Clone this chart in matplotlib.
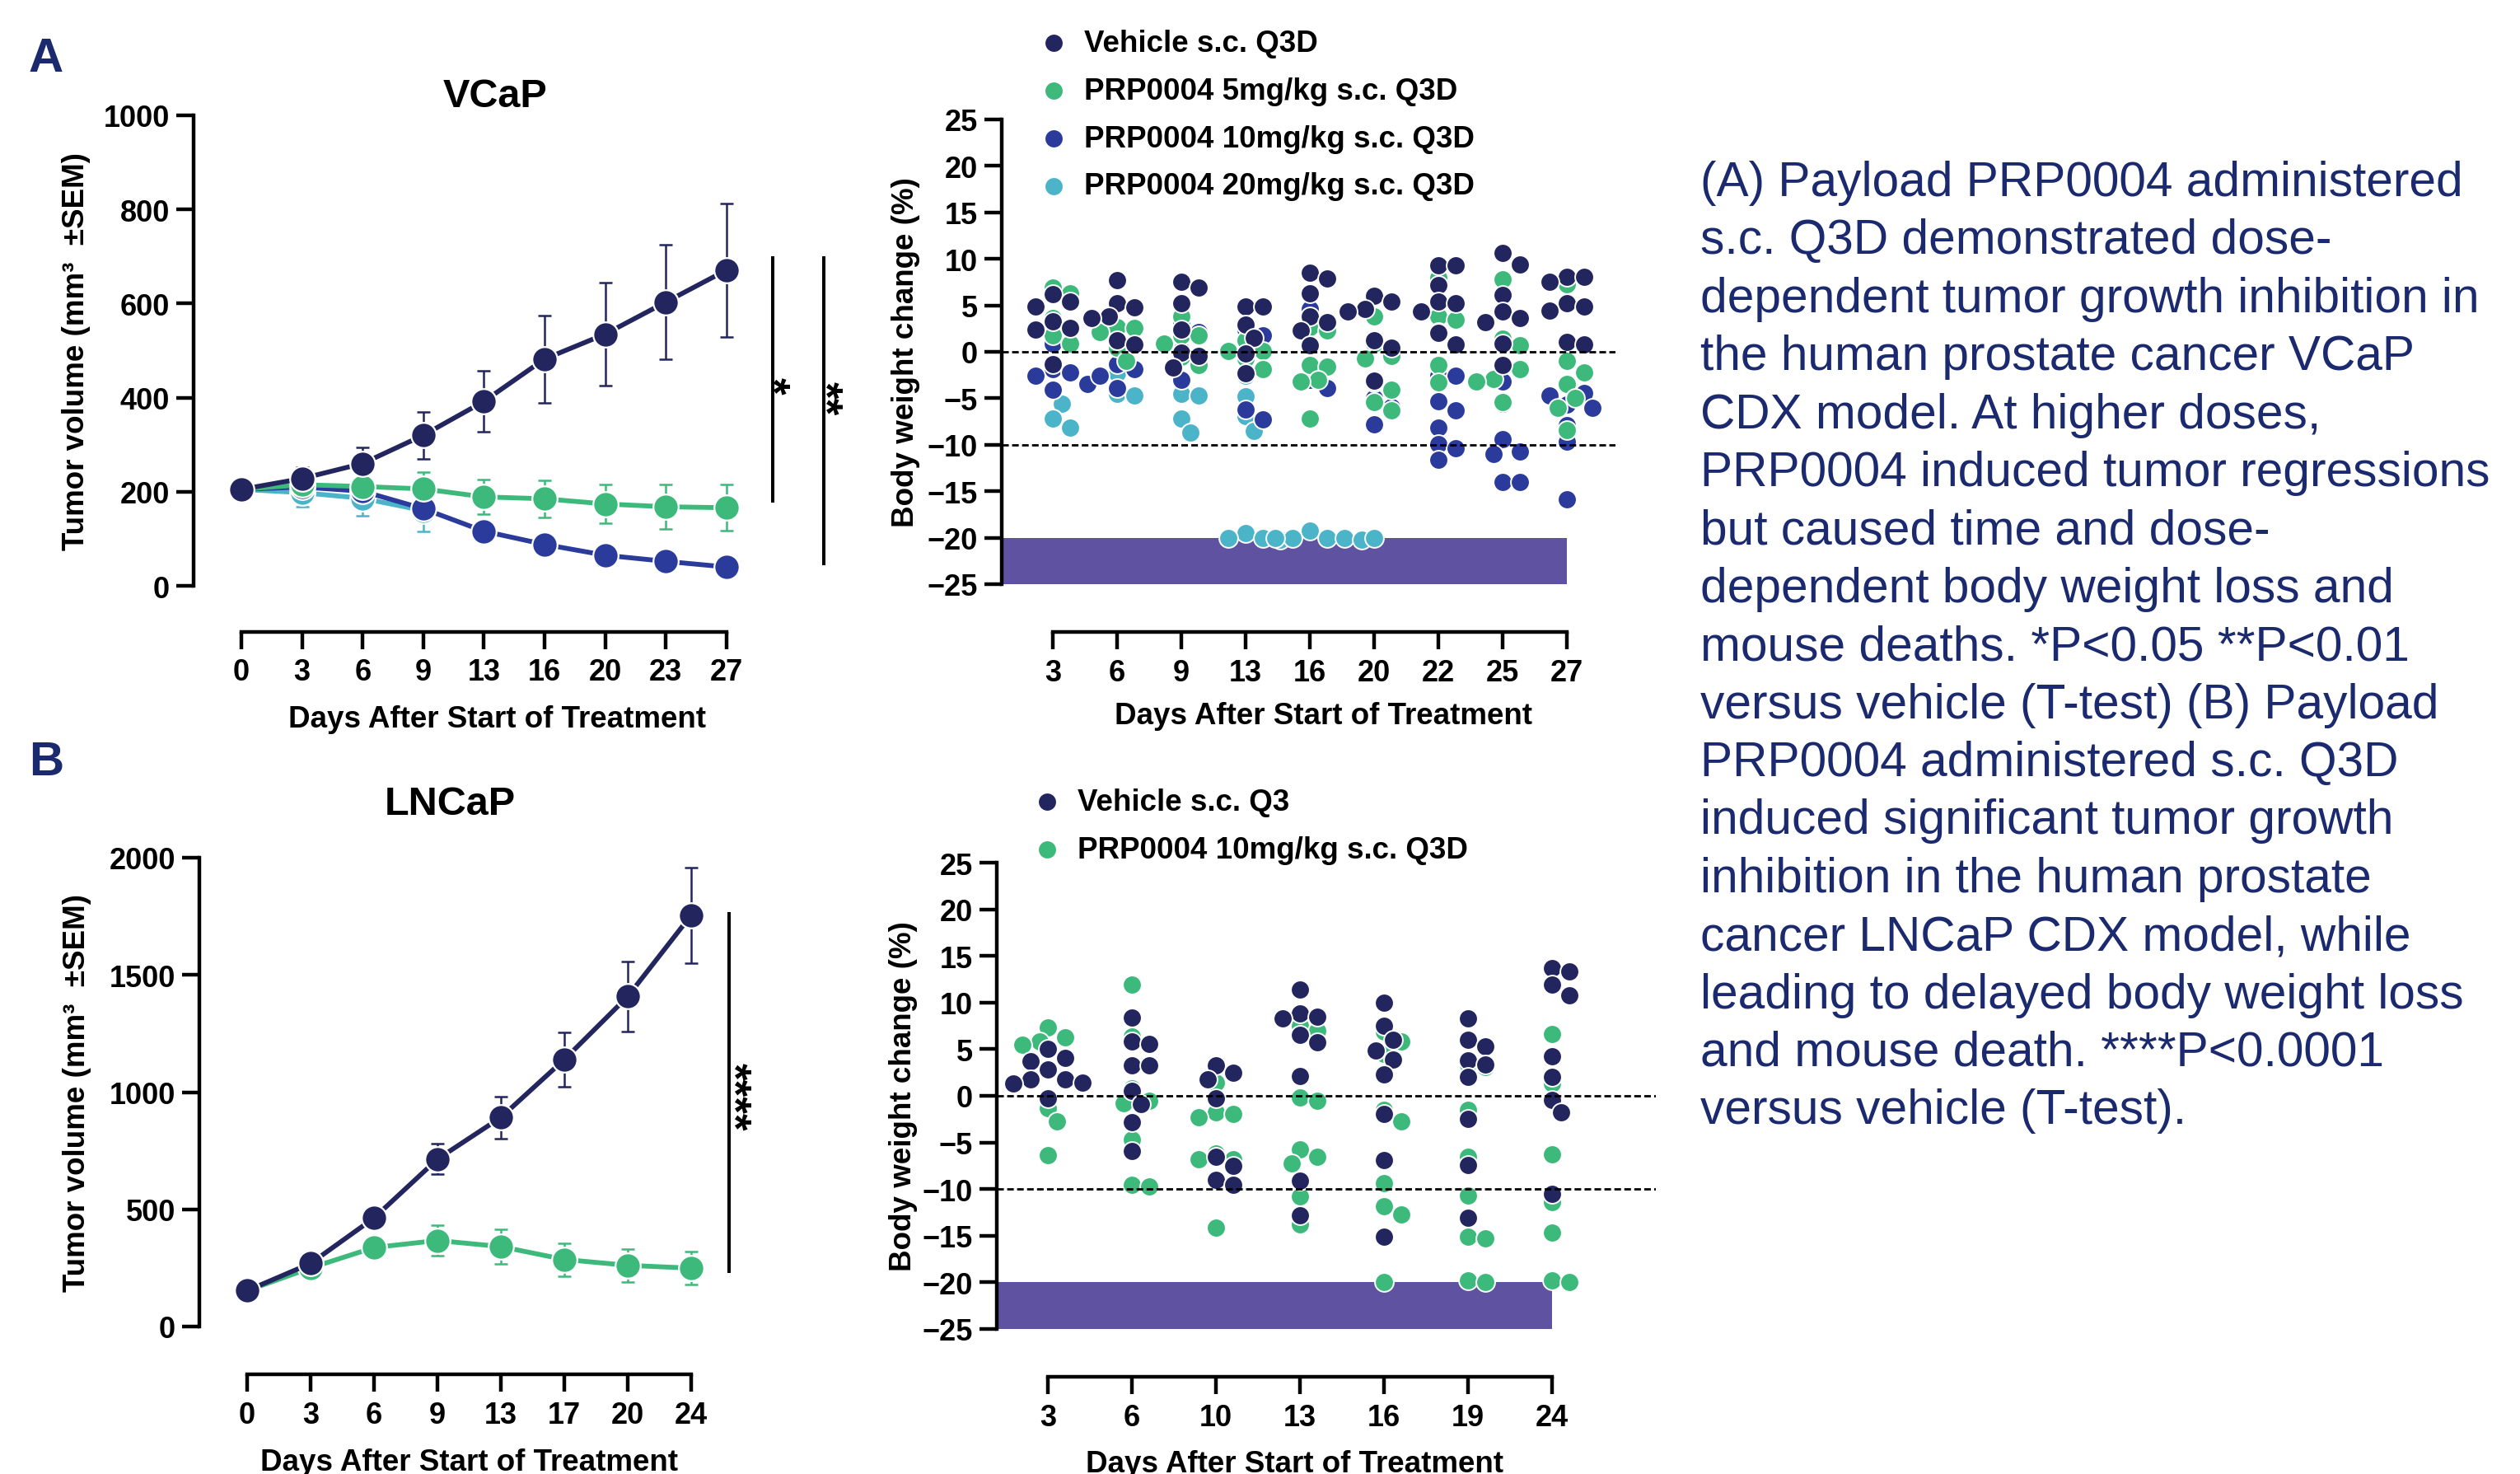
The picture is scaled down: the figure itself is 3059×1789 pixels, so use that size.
import numpy as np
import matplotlib
matplotlib.use('Agg')
import matplotlib.pyplot as plt

plt.rcParams['font.family'] = ['Liberation Sans', 'DejaVu Sans']
plt.rcParams['font.weight'] = 'bold'
plt.rcParams['axes.labelweight'] = 'bold'

# ---- tumor volume, VCaP ----
vcap_days = [0, 3, 6, 9, 13, 16, 20, 23, 27]
vcap_veh = [205, 228, 260, 320, 392, 482, 535, 603, 671]
vcap_veh_sem = [5, 25, 35, 50, 65, 93, 110, 122, 142]
vcap_5 = [205, 215, 211, 206, 189, 185, 174, 168, 166]
vcap_5_sem = [5, 20, 25, 35, 37, 40, 41, 48, 49]
vcap_10 = [205, 210, 201, 164, 116, 88, 65, 52, 40]
vcap_10_sem = [5, 10, 10, 12, 8, 7, 6, 5, 5]
vcap_20 = [205, 198, 186, 160]
vcap_20_sem = [5, 30, 37, 45]
# (stars, bar bottom, bar top, star centre)
vcap_sig = [('*', 181, 697, 427), ('**', 47, 697, 400)]

# ---- tumor volume, LNCaP ----
lncap_days = [0, 3, 6, 9, 13, 17, 20, 24]
lncap_veh = [153, 269, 463, 714, 892, 1139, 1408, 1755]
lncap_veh_sem = [10, 20, 20, 65, 90, 115, 148, 204]
lncap_10 = [153, 250, 337, 367, 341, 286, 261, 249]
lncap_10_sem = [10, 15, 30, 65, 75, 70, 70, 70]
lncap_sig = [('****', 235, 1761, 984)]

# ---- body weight change (%), VCaP, one list per day ----
bw_a_days = [3, 6, 9, 13, 16, 20, 22, 25, 27]
bw_a_veh = [
    [6.2, 5.4, 4.9, 3.3, 2.6, 2.4, -1.3],
    [7.7, 5.2, 4.8, 3.8, 3.6, 1.2, 0.8],
    [7.5, 6.9, 5.2, 2.4, -0.1, -0.4, -1.7],
    [4.9, 4.9, 2.9, 1.5, -0.2, -2.3],
    [8.5, 7.9, 6.3, 3.8, 3.2, 2.3, 0.7],
    [6.0, 5.4, 4.6, 4.3, 1.2, 0.4, -3.1],
    [9.3, 9.3, 7.2, 5.4, 5.2, 4.3, 2.0, 0.8],
    [10.6, 9.4, 6.1, 4.3, 3.6, 3.2, 0.9, -1.4],
    [8.1, 8.1, 7.5, 5.2, 4.9, 4.4, 1.1, 0.8],
]
bw_a_5 = [
    [6.9, 6.3, 3.6, 2.7, 1.8, 0.9],
    [5.2, 2.7, 2.6, 2.1, 0.4, -1.0],
    [3.8, 1.8, 1.8, 0.9, -0.5, -1.4],
    [3.0, 1.2, 0.1, 0.1, -0.7, -1.9],
    [2.7, 2.3, -1.4, -1.6, -3.0, -3.2, -7.2],
    [3.8, 0.9, -0.4, -0.7, -3.3, -4.1, -5.4, -6.3],
    [8.0, 3.8, 3.5, 2.1, 0.9, -1.4, -3.3],
    [7.8, 1.4, 0.7, -1.3, -1.9, -2.9, -3.2, -5.4],
    [7.3, -1.0, -2.2, -3.5, -5.0, -6.0, -8.4],
]
bw_a_10 = [
    [0.9, -1.9, -2.2, -2.6, -3.5, -4.1],
    [0.6, -1.3, -1.9, -2.6, -3.9],
    [3.3, 2.1, 0.2, -3.0],
    [2.4, 1.8, -6.2, -7.3],
    [4.6, 3.3, -3.0, -3.9],
    [-3.2, -5.0, -5.9, -7.8],
    [-2.6, -2.6, -5.3, -6.3, -8.2, -9.9, -10.4, -11.6],
    [-3.2, -5.6, -9.4, -10.7, -11.0, -14.0, -14.0],
    [-3.5, -4.4, -4.7, -5.7, -6.0, -7.9, -9.7, -15.9],
]
bw_a_20 = [
    [-1.9, -4.1, -5.6, -7.2, -8.2],
    [-2.3, -4.5, -4.7],
    [-4.5, -4.7, -7.2, -8.7],
    [-2.6, -4.8, -6.9, -8.5, -19.5, -20.0, -20.0, -20.2],
    [-19.2, -20.0, -20.0, -20.0, -20.0, -20.2],
    [-20.0],
    [], [], [],
]

# ---- body weight change (%), LNCaP ----
bw_b_days = [3, 6, 10, 13, 16, 19, 24]
bw_b_veh = [
    [5.0, 4.1, 3.7, 2.8, 1.8, 1.8, 1.4, 1.3, -0.3],
    [8.4, 5.8, 5.6, 3.3, 3.3, 0.5, -0.9, -2.8, -5.9],
    [3.3, 2.5, 1.8, -0.3, -6.5, -7.5, -9.0, -9.5],
    [11.4, 8.8, 8.5, 8.3, 6.5, 5.7, 2.1, -9.1, -12.8],
    [10.0, 7.5, 6.0, 4.9, 3.9, 2.3, -1.9, -6.9, -15.1],
    [8.3, 6.0, 5.3, 3.8, 3.4, 2.0, -2.5, -7.4, -13.1],
    [13.7, 13.3, 11.9, 10.8, 4.2, 2.0, -0.4, -1.8, -10.5],
]
bw_b_10 = [
    [7.3, 6.3, 5.8, 5.5, 2.8, -1.3, -2.7, -6.4],
    [11.9, 6.4, 0.8, -0.5, -0.8, -4.7, -9.5, -9.7],
    [1.4, -1.8, -1.9, -2.3, -6.2, -6.8, -6.8, -14.1],
    [7.5, 7.0, -0.2, -0.5, -5.7, -6.5, -7.2, -10.8, -13.8],
    [6.9, 5.8, 4.5, -1.5, -2.7, -9.4, -11.8, -12.7, -20.0],
    [3.4, 3.1, -1.5, -6.5, -10.7, -15.1, -15.3, -19.8, -20.0],
    [6.6, 1.3, -6.3, -11.4, -14.7, -19.8, -20.0],
]

legend_a = ['Vehicle s.c. Q3D', 'PRP0004 5mg/kg s.c. Q3D',
            'PRP0004 10mg/kg s.c. Q3D', 'PRP0004 20mg/kg s.c. Q3D']
legend_b = ['Vehicle s.c. Q3', 'PRP0004 10mg/kg s.c. Q3D']

caption = [
    "(A) Payload PRP0004 administered",
    "s.c. Q3D demonstrated dose-",
    "dependent tumor growth inhibition in",
    "the human prostate cancer VCaP",
    "CDX model. At higher doses,",
    "PRP0004 induced tumor regressions",
    "but caused time and dose-",
    "dependent body weight loss and",
    "mouse deaths. *P<0.05 **P<0.01",
    "versus vehicle (T-test) (B) Payload",
    "PRP0004 administered s.c. Q3D",
    "induced significant tumor growth",
    "inhibition in the human prostate",
    "cancer LNCaP CDX model, while",
    "leading to delayed body weight loss",
    "and mouse death. ****P<0.0001",
    "versus vehicle (T-test).",
]

NAVY = '#23255e'
GREEN = '#3dba7b'
BLUE = '#2a3b9b'
CYAN = '#4cb4c9'
BAND = '#5f52a1'
INK = '#1b2a6e'

W, H = 3059, 1790
fig = plt.figure(figsize=(W / 100, H / 100), dpi=100)


def px_axes(left, top, right, bottom, x0, dx):
    ax = fig.add_axes([left / W, 1 - bottom / H, (right - left) / W, (bottom - top) / H])
    ax.set_xlim((left - x0) / dx, (right - x0) / dx)
    return ax


def style(ax, days, ylo, yhi, yticks, offset):
    for s in ['top', 'right']:
        ax.spines[s].set_visible(False)
    for s in ['left', 'bottom']:
        ax.spines[s].set_linewidth(3.2)
    ax.spines['bottom'].set_position(('outward', offset))
    ax.spines['bottom'].set_bounds(0, len(days) - 1)
    ax.spines['left'].set_bounds(ylo, yhi)
    ax.set_ylim(ylo, yhi)
    ax.set_yticks(yticks)
    ax.set_xticks(np.arange(len(days)))
    ax.set_xticklabels([str(d) for d in days])
    ax.tick_params(direction='out', length=15, width=3.2, labelsize=26)
    ax.tick_params(axis='y', pad=6)
    ax.tick_params(axis='x', pad=8)
    ax.set_facecolor('none')


def fig_label_coords(ax, xl, yl):
    ax.xaxis.set_label_coords(xl[0] / W, 1 - xl[1] / H, transform=fig.transFigure)
    ax.yaxis.set_label_coords(yl[0] / W, 1 - yl[1] / H, transform=fig.transFigure)


def tumor(ax, groups, sig, sig_x):
    for vals, sem, c in groups:
        xi = np.arange(len(vals))
        ax.errorbar(xi, vals, yerr=sem, fmt='none', ecolor=c, elinewidth=1.8,
                    capsize=6, capthick=1.8, zorder=2, clip_on=False)
        ax.plot(xi, vals, '-o', color=c, lw=4.2, ms=22, mec='white', mew=1.6,
                zorder=3, clip_on=False)
    for (stars, lo, hi, mid), (bx, tx) in zip(sig, sig_x):
        ax.plot([bx, bx], [lo, hi], color='black', lw=2.9, clip_on=False)
        ax.text(tx, mid, stars, rotation=270, rotation_mode='anchor',
                ha='center', va='baseline', fontsize=38, clip_on=False)


def swarm(per_day, x_px, y_px, diam=21.0):
    xs, ys = [], []
    steps = [0] + [k for i in range(1, 25) for k in (i, -i)]
    for i, vals in enumerate(per_day):
        placed = []
        for v in vals:
            y = v * y_px
            for k in steps:
                xo = k * diam * 0.5
                if all((xo - a) ** 2 + (y - b) ** 2 >= (0.88 * diam) ** 2 for a, b in placed):
                    break
            placed.append((xo, y))
            xs.append(i + xo / x_px)
            ys.append(v)
    return xs, ys


def bodyweight(ax, days, groups, x_px, y_px):
    lo = ax.get_xlim()[0]
    ax.fill_between([lo, len(days) - 1], -25, -20, color=BAND, lw=0, zorder=1)
    handles = {}
    for name, per_day, c in groups:
        xs, ys = swarm(per_day, x_px, y_px)
        handles[name] = ax.scatter(xs, ys, s=270, color=c, edgecolors='white',
                                   linewidths=1.4, zorder=3, clip_on=False)
    for yv in (0, -10):
        ax.axhline(yv, color='black', lw=2, ls=(0, (2.9, 1.45)), zorder=4)
    return handles


def legend(ax, handles, labels, x, y):
    ax.legend(handles, labels, loc='upper left', bbox_to_anchor=(x / W, 1 - y / H),
              bbox_transform=fig.transFigure, frameon=False,
              prop={'size': 26.5, 'weight': 'bold'}, handlelength=1.0,
              handletextpad=0.5, labelspacing=0.62, borderpad=0, borderaxespad=0)


# ---- panel A, tumor volume ----
ax1 = px_axes(235, 141, 1030, 712, 293, 73.6)
tumor(ax1, [(vcap_20, vcap_20_sem, CYAN), (vcap_10, vcap_10_sem, BLUE),
            (vcap_5, vcap_5_sem, GREEN), (vcap_veh, vcap_veh_sem, NAVY)],
      vcap_sig, [(8.76, 8.53), (9.61, 9.40)])
style(ax1, vcap_days, 0, 1000, range(0, 1001, 200), 40)
ax1.set_xlabel('Days After Start of Treatment', fontsize=26.5)
ax1.set_ylabel('Tumor volume (mm\u00b3  \u00b1SEM)', fontsize=26.5)
fig_label_coords(ax1, (604, 856), (110, 426))

# ---- panel A, body weight ----
ax2 = px_axes(1216, 146, 1961, 710, 1278, 78)
style(ax2, bw_a_days, -25, 25, range(-25, 26, 5), 42)
h2 = bodyweight(ax2, bw_a_days, [('20', bw_a_20, CYAN), ('10', bw_a_10, BLUE),
                                 ('5', bw_a_5, GREEN), ('veh', bw_a_veh, NAVY)],
                78, 11.28)
ax2.set_xlabel('Days After Start of Treatment', fontsize=26.5)
ax2.set_ylabel('Body weight change (%)', fontsize=26.5)
fig_label_coords(ax2, (1606, 852), (1117, 428))
legend(ax2, [h2['veh'], h2['5'], h2['10'], h2['20']], legend_a, 1261, 36)

# ---- panel B, tumor volume ----
ax3 = px_axes(242, 1042, 930, 1611, 300, 77)
tumor(ax3, [(lncap_10, lncap_10_sem, GREEN), (lncap_veh, lncap_veh_sem, NAVY)],
      lncap_sig, [(7.6, 7.45)])
style(ax3, lncap_days, 0, 2000, range(0, 2001, 500), 42)
ax3.set_xlabel('Days After Start of Treatment', fontsize=26.5)
ax3.set_ylabel('Tumor volume (mm\u00b3  \u00b1SEM)', fontsize=26.5)
fig_label_coords(ax3, (570, 1758), (111, 1326))

# ---- panel B, body weight ----
ax4 = px_axes(1210, 1048, 2010, 1614, 1272, 102)
style(ax4, bw_b_days, -25, 25, range(-25, 26, 5), 42)
h4 = bodyweight(ax4, bw_b_days, [('10', bw_b_10, GREEN), ('veh', bw_b_veh, NAVY)],
                102, 11.32)
ax4.set_xlabel('Days After Start of Treatment', fontsize=26.5)
ax4.set_ylabel('Body weight change (%)', fontsize=26.5)
fig_label_coords(ax4, (1572, 1760), (1114, 1331))
legend(ax4, [h4['veh'], h4['10']], legend_b, 1253, 957)

# titles and panel letters
fig.text(601 / W, 1 - 117 / H, 'VCaP', ha='center', va='center', fontsize=35)
fig.text(546 / W, 1 - 977 / H, 'LNCaP', ha='center', va='center', fontsize=35)
fig.text(56 / W, 1 - 72 / H, 'A', ha='center', va='center', fontsize=42, color=INK)
fig.text(56 / W, 1 - 926 / H, 'B', ha='center', va='center', fontsize=42, color=INK)

for i, line in enumerate(caption):
    fig.text(2064 / W, 1 - (238 + i * 70.4) / H, line, ha='left', va='baseline',
             fontsize=42.2, fontweight='normal', color=INK)

fig.savefig('out.png', dpi=100, facecolor='white')
